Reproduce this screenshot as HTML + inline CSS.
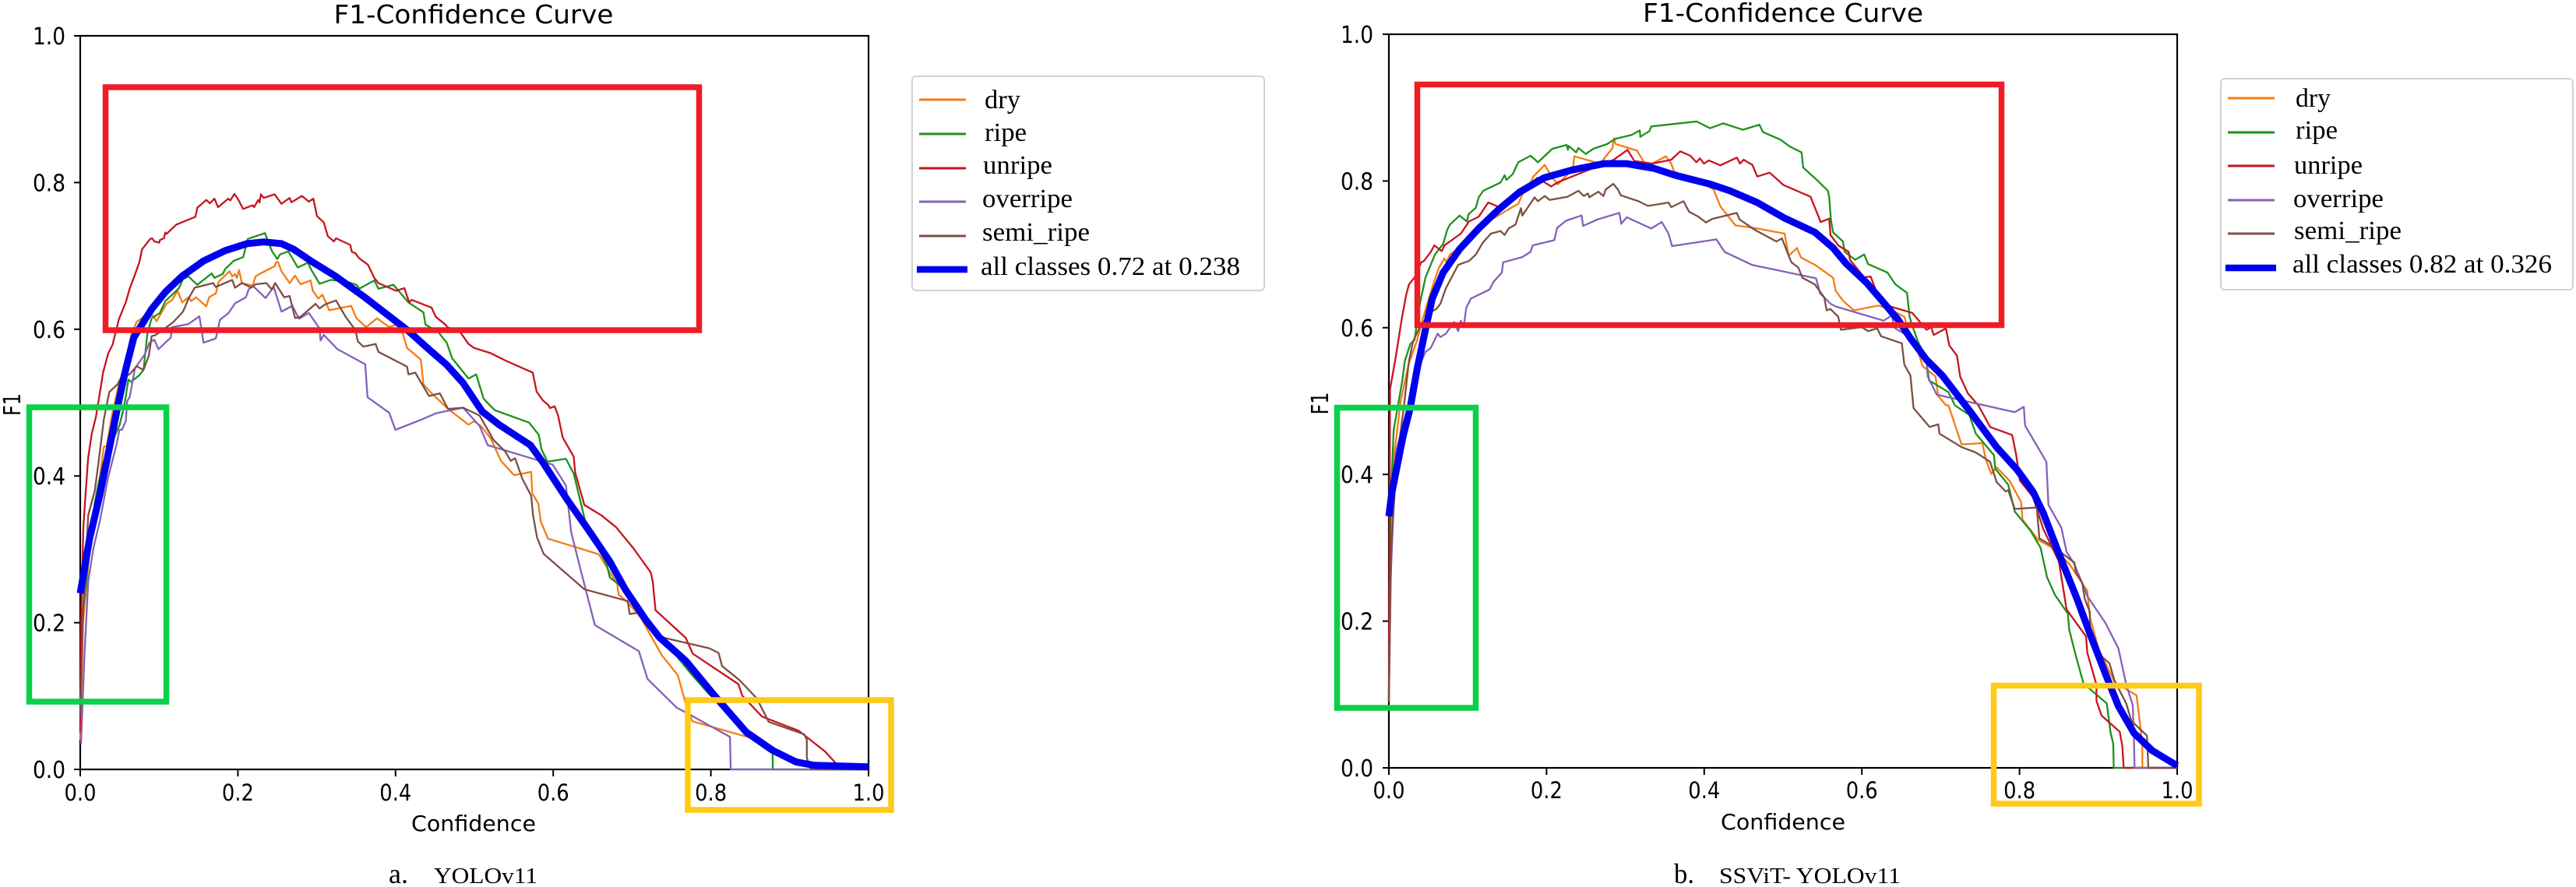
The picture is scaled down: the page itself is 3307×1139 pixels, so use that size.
<!DOCTYPE html>
<html lang="en">
<head>
<meta charset="utf-8">
<title>F1-Confidence Curves</title>
<style>
html,body{margin:0;padding:0;background:#fff;}
svg{display:block;}
.sans{font-family:"DejaVu Sans","Liberation Sans",sans-serif;fill:#000;}
.serif{font-family:"Liberation Serif","Times New Roman",serif;fill:#000;}
</style>
</head>
<body>
<svg id="figure" xmlns="http://www.w3.org/2000/svg" width="3307" height="1139" viewBox="0 0 3307 1139">
<rect x="0" y="0" width="3307" height="1139" fill="#fff"/>

<g id="chart-a">
  <text class="sans" x="608" y="30" font-size="33" text-anchor="middle" textLength="359" lengthAdjust="spacingAndGlyphs">F1-Confidence Curve</text>
  <text class="sans" x="608" y="1067" font-size="28" text-anchor="middle" textLength="160" lengthAdjust="spacingAndGlyphs">Confidence</text>
  <text class="sans" transform="translate(26,519.5) rotate(-90)" font-size="30" text-anchor="middle" textLength="29" lengthAdjust="spacingAndGlyphs">F1</text>
  <g id="axes-a"></g>
  <g id="curves-a"></g>
  <g fill="none">
    <rect x="135.5" y="112" width="762" height="312" stroke="#ee1c25" stroke-width="7.5"/>
    <rect x="37.5" y="523" width="176" height="378" stroke="#0ad14a" stroke-width="7.5"/>
    <rect x="883" y="899" width="261" height="141" stroke="#ffc917" stroke-width="7.5"/>
  </g>
  <g>
    <rect x="1171" y="98" width="452" height="275" rx="5" fill="#fff" stroke="#d2d2d2" stroke-width="2"/>
    <line x1="1180" x2="1240" y1="128" y2="128" stroke="#f57c14" stroke-width="3"/>
    <text class="serif" x="1264" y="139" font-size="34" textLength="46" lengthAdjust="spacingAndGlyphs">dry</text>
    <line x1="1180" x2="1240" y1="172" y2="172" stroke="#1c921c" stroke-width="3"/>
    <text class="serif" x="1264" y="181" font-size="34" textLength="54" lengthAdjust="spacingAndGlyphs">ripe</text>
    <line x1="1180" x2="1240" y1="216" y2="216" stroke="#c8141e" stroke-width="3"/>
    <text class="serif" x="1262" y="223" font-size="34" textLength="89" lengthAdjust="spacingAndGlyphs">unripe</text>
    <line x1="1180" x2="1240" y1="259" y2="259" stroke="#8561b8" stroke-width="3"/>
    <text class="serif" x="1261" y="266" font-size="34" textLength="116" lengthAdjust="spacingAndGlyphs">overripe</text>
    <line x1="1180" x2="1240" y1="303" y2="303" stroke="#7c4f43" stroke-width="3"/>
    <text class="serif" x="1261" y="309" font-size="34" textLength="138" lengthAdjust="spacingAndGlyphs">semi_ripe</text>
    <line x1="1177" x2="1242" y1="346" y2="346" stroke="#0000ee" stroke-width="8.5"/>
    <text class="serif" x="1259" y="353" font-size="34" textLength="333" lengthAdjust="spacingAndGlyphs">all classes 0.72 at 0.238</text>
  </g>
  <text class="serif" x="499" y="1134" font-size="36" textLength="25" lengthAdjust="spacingAndGlyphs">a.</text>
  <text class="serif" x="557" y="1134" font-size="29" textLength="133" lengthAdjust="spacingAndGlyphs">YOLOv11</text>
</g>

<g id="chart-b">
  <text class="sans" x="2289" y="28" font-size="33" text-anchor="middle" textLength="360" lengthAdjust="spacingAndGlyphs">F1-Confidence Curve</text>
  <text class="sans" x="2289" y="1065" font-size="28" text-anchor="middle" textLength="160" lengthAdjust="spacingAndGlyphs">Confidence</text>
  <text class="sans" transform="translate(1705,518) rotate(-90)" font-size="30" text-anchor="middle" textLength="29" lengthAdjust="spacingAndGlyphs">F1</text>
  <g id="axes-b"></g>
  <g id="curves-b"></g>
  <g fill="none">
    <rect x="1819.5" y="108.5" width="750" height="309" stroke="#ee1c25" stroke-width="7.5"/>
    <rect x="1716.5" y="523.5" width="178" height="385.5" stroke="#0ad14a" stroke-width="7.5"/>
    <rect x="2559.5" y="880.5" width="263.5" height="151.5" stroke="#ffc917" stroke-width="7.5"/>
  </g>
  <g>
    <rect x="2851" y="101" width="452" height="271" rx="5" fill="#fff" stroke="#d2d2d2" stroke-width="2"/>
    <line x1="2860" x2="2920" y1="126" y2="126" stroke="#f57c14" stroke-width="3"/>
    <text class="serif" x="2947" y="137" font-size="34" textLength="45" lengthAdjust="spacingAndGlyphs">dry</text>
    <line x1="2860" x2="2920" y1="170" y2="170" stroke="#1c921c" stroke-width="3"/>
    <text class="serif" x="2947" y="178" font-size="34" textLength="54" lengthAdjust="spacingAndGlyphs">ripe</text>
    <line x1="2860" x2="2920" y1="213" y2="213" stroke="#c8141e" stroke-width="3"/>
    <text class="serif" x="2945" y="223" font-size="34" textLength="88" lengthAdjust="spacingAndGlyphs">unripe</text>
    <line x1="2860" x2="2920" y1="257" y2="257" stroke="#8561b8" stroke-width="3"/>
    <text class="serif" x="2944" y="266" font-size="34" textLength="116" lengthAdjust="spacingAndGlyphs">overripe</text>
    <line x1="2860" x2="2920" y1="300" y2="300" stroke="#7c4f43" stroke-width="3"/>
    <text class="serif" x="2945" y="307" font-size="34" textLength="138" lengthAdjust="spacingAndGlyphs">semi_ripe</text>
    <line x1="2857" x2="2922" y1="344" y2="344" stroke="#0000ee" stroke-width="8.5"/>
    <text class="serif" x="2943" y="350" font-size="34" textLength="333" lengthAdjust="spacingAndGlyphs">all classes 0.82 at 0.326</text>
  </g>
  <text class="serif" x="2149" y="1134" font-size="36" textLength="26" lengthAdjust="spacingAndGlyphs">b.</text>
  <text class="serif" x="2207" y="1134" font-size="29" textLength="233" lengthAdjust="spacingAndGlyphs">SSViT- YOLOv11</text>
</g>
</svg>

<script>
const tickValues = [0, 0.2, 0.4, 0.6, 0.8, 1];
const tickLabels = ['0.0', '0.2', '0.4', '0.6', '0.8', '1.0'];

/* Chart a: YOLOv11 */
const dryConfA = [0,.0036,.0118,.02,.03,.0334,.0403,.049,.0577,.0646,.0715,.0802,.0923,.0968,.1096,.1166,.1235,.1294,.1374,.1408,.1467,.1599,.1634,.172,.1755,.1894,.1928,.1963,.1987,.2015,.205,.2188,.2223,.2275,.2466,.2483,.2511,.2552,.2656,.2725,.2795,.2923,.2951,.302,.3072,.3159,.3436,.3505,.3627,.3765,.392,.4008,.4077,.4146,.432,.4354,.4441,.4666,.4926,.4996,.5082,.5209,.5336,.5503,.572,.5734,.581,.5844,.5934,.6579,.6812,.6829,.6946,.7113,.738,.758,.7681,.7764,.8482,.8783,.9251,.9317,1];
const dryF1A = [.04,.2,.298,.36,.44,.4407,.4825,.525,.5568,.5922,.61,.617,.6188,.611,.6347,.64,.6524,.6365,.6436,.6383,.6436,.6312,.6436,.6489,.6648,.679,.672,.6754,.67,.6807,.663,.6595,.672,.6754,.6861,.6914,.6914,.679,.663,.673,.6613,.6666,.6524,.6418,.6471,.6259,.632,.615,.6029,.615,.6029,.6064,.5993,.5745,.5586,.525,.5144,.4914,.47,.4747,.4683,.4508,.4207,.4012,.4055,.3764,.3623,.3375,.3145,.2932,.2525,.2384,.2278,.2065,.1552,.1286,.0897,.0656,.0437,.025,.0083,0,0];

const ripeConfA = [0,.0036,.0118,.0184,.0234,.03,.04,.05,.056,.0611,.0646,.075,.0802,.0854,.0906,.101,.1079,.1166,.1252,.1304,.1374,.1485,.1668,.1703,.1807,.1842,.1946,.2067,.2126,.2344,.2396,.2438,.25,.2535,.2639,.276,.2888,.2933,.3037,.3176,.3384,.3505,.354,.373,.3783,.3973,.4164,.4354,.4379,.4545,.4649,.4718,.4926,.5023,.5117,.5192,.5259,.5694,.5817,.585,.5927,.6161,.6261,.6412,.6679,.6719,.683,.7614,.7748,.7981,.8048,.8449,.8783,.8786,1];
const ripeF1A = [.0938,.216,.298,.363,.3916,.42,.445,.47,.4967,.5314,.5285,.5374,.5445,.5958,.615,.6223,.6383,.647,.656,.6684,.6719,.6606,.6761,.67,.6754,.6825,.6931,.6984,.7232,.731,.716,.7055,.6956,.702,.7062,.6843,.6907,.6807,.662,.6673,.6648,.6606,.6553,.6666,.6553,.6606,.6365,.623,.6064,.5958,.5816,.5604,.5328,.5384,.5055,.4968,.4897,.4727,.456,.4366,.4196,.4235,.403,.3357,.279,.2614,.2525,.1481,.1304,.1021,.0968,.0472,.0242,0,0];

const unripeConfA = [0,.001,.004,.007,.01,.0145,.02,.025,.029,.0355,.041,.049,.0577,.0629,.0698,.075,.0785,.0888,.0913,.094,.1003,.101,.1062,.1079,.1096,.1218,.146,.1485,.1599,.1644,.1703,.1748,.1876,.1904,.1956,.1998,.2067,.2188,.2206,.2258,.2275,.2292,.2327,.2466,.2552,.2656,.268,.2812,.2899,.2958,.3003,.309,.3141,.3218,.3245,.3426,.3446,.3488,.354,.3651,.373,.3783,.4008,.4112,.4174,.4205,.4458,.451,.4632,.4656,.4822,.4926,.4996,.5204,.5405,.574,.579,.587,.5937,.596,.6018,.6061,.6121,.6261,.6278,.6395,.6612,.6796,.7013,.7237,.7263,.7297,.7681,.7771,.8349,.8399,.8649,.9117,.9451,.9601,.9635,1];
const unripeF1A = [.05,.2,.33,.379,.424,.457,.481,.514,.541,.567,.579,.6135,.6365,.656,.6755,.6914,.709,.7232,.7239,.7197,.718,.7215,.724,.732,.73,.7427,.7533,.7657,.7763,.7717,.778,.7664,.778,.7756,.7845,.778,.764,.769,.7664,.7763,.7728,.784,.779,.784,.771,.779,.773,.7817,.774,.778,.7544,.7455,.7268,.7197,.724,.715,.7055,.7038,.6967,.6878,.67,.663,.6524,.656,.6365,.64,.6294,.617,.6064,.6029,.5958,.5799,.5745,.5675,.5568,.541,.5149,.503,.4968,.4925,.495,.4826,.4525,.426,.405,.3605,.3463,.3304,.302,.2685,.256,.2171,.1793,.1577,.1162,.1003,.072,.0525,.0242,.0065,.0012,0];

const overripeConfA = [.001,.0053,.0102,.0168,.025,.0349,.0464,.0497,.053,.0579,.0595,.0628,.0694,.0819,.0878,.094,.0992,.1148,.1166,.1374,.1512,.1564,.172,.1772,.1883,.1963,.2102,.2136,.2188,.2351,.2455,.2552,.2691,.2777,.2899,.3037,.3048,.3089,.3263,.3616,.3644,.3921,.3997,.4337,.451,.4857,.5065,.5169,.5827,.5994,.6161,.6228,.6361,.6529,.7086,.7197,.7564,.7748,.8242,.8252,1];
const overripeF1A = [.0346,.155,.257,.302,.339,.3957,.4447,.463,.463,.4753,.5018,.508,.5467,.5657,.5816,.5858,.5728,.5887,.6029,.6071,.6177,.5816,.5876,.6128,.6223,.6354,.6436,.6542,.6595,.6425,.6577,.624,.632,.6142,.6223,.601,.5845,.5922,.5728,.5522,.5073,.486,.463,.4772,.4853,.4931,.4683,.442,.4207,.4154,.387,.3233,.2667,.1966,.1612,.1233,.0844,.0738,.0444,0,0];

const semiConfA = [0,.0036,.0102,.0184,.0234,.0299,.0369,.0473,.0507,.0629,.0715,.0802,.0871,.0906,.0958,.1096,.1183,.1304,.1374,.1453,.1686,.172,.1928,.1963,.205,.2171,.2223,.2362,.2431,.2473,.2587,.2656,.2725,.2795,.2985,.3037,.3107,.3245,.3367,.3488,.3523,.3592,.3748,.3783,.4146,.4164,.425,.4424,.4562,.4666,.4857,.5065,.5243,.5393,.546,.5516,.561,.572,.5744,.5794,.5877,.6395,.6946,.697,.708,.738,.7981,.8098,.8142,.8365,.8583,.8733,.9184,.9217,.9217,.9251,.9267,1];
const semiF1A = [.0734,.216,.3468,.3794,.4202,.477,.5144,.525,.532,.539,.5497,.5445,.564,.5905,.5922,.6029,.61,.6241,.6418,.6567,.663,.6577,.6673,.6567,.663,.6567,.6613,.663,.6542,.663,.6436,.6453,.6153,.617,.6347,.6283,.634,.6393,.617,.5993,.5834,.5763,.5799,.5692,.549,.5384,.5409,.509,.5126,.4914,.4931,.4825,.449,.433,.4207,.4242,.396,.3729,.3464,.3163,.294,.2455,.2295,.2118,.2136,.18,.1651,.1587,.141,.1216,.0968,.0649,.0479,.0401,.0154,.0065,0,0];

const allConfA = [0,.0118,.025,.0382,.0497,.058,.068,.0802,.0906,.108,.1287,.1564,.1842,.2119,.2327,.2552,.2708,.2951,.3245,.3609,.3887,.4164,.4441,.4649,.4857,.51,.531,.571,.5877,.6178,.6445,.6712,.6913,.718,.7347,.7681,.8048,.8449,.8783,.9084,.9317,1];
const allF1A = [.24,.314,.375,.4447,.5059,.5467,.5887,.6099,.6276,.6507,.6719,.6931,.7073,.7168,.719,.7168,.709,.6914,.6719,.6436,.6206,.5976,.571,.5515,.5268,.4878,.4702,.442,.4172,.3676,.3269,.2844,.2455,.203,.18,.1481,.1003,.0508,.026,.01,.0055,.0035];

/* Chart b: SSViT-YOLOv11 */
const dryConfB = [0,.002,.006,.015,.025,.0359,.0428,.0567,.0636,.0705,.073,.0775,.0844,.1086,.1554,.1641,.1728,.1797,.1832,.1977,.2074,.2144,.2334,.2352,.2681,.2837,.2854,.2878,.3149,.3236,.334,.3513,.3582,.3617,.4033,.412,.4206,.4396,.4674,.502,.5072,.5177,.5228,.5405,.5635,.5668,.5767,.5899,.6211,.636,.654,.6557,.6622,.6705,.6771,.6935,.6968,.7066,.71,.7265,.7528,.7577,.7643,.7709,.7873,.8021,.8038,.8235,.8449,.863,.886,.8893,.9008,.9206,.9485,.9535,.9558,.9558,1];
const dryF1B = [.09,.3,.42,.5,.55,.583,.6113,.6609,.6821,.6945,.6892,.6998,.7052,.7335,.7636,.7689,.7901,.7972,.806,.822,.8043,.7954,.8167,.8337,.8237,.845,.8581,.8503,.8414,.8255,.8237,.8337,.8237,.8131,.7936,.7883,.7653,.7395,.7352,.7282,.6981,.7087,.6956,.6857,.668,.6503,.636,.6237,.6301,.625,.6149,.6078,.583,.5706,.5476,.5334,.5069,.4945,.494,.4409,.4427,.4189,.4006,.4098,.3915,.3622,.3384,.3109,.2981,.278,.2414,.2048,.1609,.117,.0987,.0547,.0286,0,0];

const ripeConfB = [0,.002,.006,.0168,.0203,.0272,.0324,.0393,.0463,.0584,.0688,.074,.0775,.0896,.099,.101,.1104,.1139,.1197,.1416,.1468,.1492,.1572,.1641,.1797,.1891,.2074,.2255,.2272,.2282,.2376,.2404,.2497,.2594,.2768,.2872,.308,.3183,.319,.3305,.333,.3904,.4074,.424,.449,.4701,.4743,.4968,.509,.5235,.5256,.5436,.557,.5586,.5609,.5635,.576,.5783,.5915,.603,.6079,.6326,.6425,.6573,.6606,.6629,.6705,.682,.6853,.7099,.7182,.7363,.7446,.7676,.7692,.7857,.794,.8137,.8268,.835,.8449,.8614,.863,.8712,.8811,.9107,.9156,.9189,.9196,1];
const ripeF1B = [.09,.35,.46,.5264,.5547,.5777,.583,.6326,.668,.6998,.714,.7335,.7406,.7529,.7448,.7547,.7636,.7777,.7866,.7979,.8078,.8014,.8096,.8255,.8344,.8255,.8439,.8492,.8425,.8478,.839,.845,.8368,.8439,.8503,.8574,.8627,.869,.8602,.868,.8744,.8811,.8719,.8786,.8698,.8768,.8669,.8563,.8467,.839,.8184,.8007,.7865,.7777,.7458,.7299,.7175,.7034,.6927,.6998,.6867,.675,.6591,.6474,.6149,.606,.583,.5547,.5281,.5122,.494,.4811,.4555,.4262,.408,.386,.3494,.3237,.2999,.2597,.2359,.2103,.1883,.1536,.1151,.0877,.0474,.0328,0,0];

const unripeConfB = [0,.0008,.0015,.0087,.0168,.022,.0255,.0324,.0411,.0445,.0532,.0577,.0671,.0705,.0913,.1017,.1139,.126,.1416,.1537,.1641,.1884,.2057,.2161,.2854,.3027,.3114,.334,.3582,.3696,.3825,.3901,.3946,.3998,.4057,.4206,.4414,.4455,.4501,.4611,.4674,.483,.5003,.535,.5477,.5586,.5602,.5701,.5833,.5849,.603,.6112,.6168,.6195,.6359,.6639,.6737,.682,.6879,.6912,.7066,.7109,.7208,.7247,.7346,.7479,.7627,.7906,.7956,.8005,.817,.8301,.8498,.8548,.8597,.8844,.886,.8976,.8976,.9041,.9272,.9305,.9321,1];
const unripeF1B = [.09,.3,.516,.56,.6149,.645,.6591,.668,.6892,.691,.7034,.7122,.7044,.7122,.7282,.7448,.7512,.7706,.7636,.776,.782,.8043,.7926,.799,.829,.8425,.8273,.8237,.829,.8404,.8344,.8255,.8308,.8237,.828,.8213,.8319,.8237,.829,.822,.806,.8114,.7947,.7784,.744,.7487,.7264,.7122,.7034,.6927,.6687,.6697,.6538,.6396,.629,.6202,.6078,.5971,.6007,.5901,.599,.576,.5618,.5334,.5104,.494,.4647,.4537,.428,.3915,.3695,.3256,.2817,.2487,.2158,.1792,.1572,.1133,.0913,.0712,.0492,.0291,0,0];

const overripeConfB = [0,.002,.0087,.0237,.0289,.0463,.0532,.0619,.0653,.0723,.0827,.0879,.0913,.0948,.0982,.1041,.1277,.1329,.1433,.145,.1693,.1797,.1825,.2099,.2133,.2248,.2445,.2463,.2646,.2924,.2948,.3017,.3329,.3461,.3547,.3592,.4154,.4258,.4605,.5419,.5471,.5603,.5668,.6277,.6376,.6425,.659,.6737,.682,.6836,.6951,.794,.8054,.8071,.8341,.8367,.8531,.8597,.8696,.886,.909,.9255,.9354,.9436,.9452,.9459,1];
const overripeF1B = [.09,.25,.43,.491,.5228,.567,.5724,.5919,.5873,.5919,.6078,.5954,.6096,.6007,.6273,.6397,.652,.6627,.675,.6892,.6963,.7034,.7122,.7193,.736,.7459,.753,.7388,.7476,.7565,.7416,.7505,.7352,.7441,.7282,.7112,.7204,.7034,.6857,.6673,.6467,.6326,.629,.6096,.6166,.5989,.5883,.5759,.5547,.5334,.5087,.4848,.4921,.4665,.4171,.3585,.3274,.2945,.278,.2341,.1975,.1627,.1133,.0858,.0401,0,0];

const semiConfB = [0,.003,.01,.0185,.0255,.0307,.0376,.0515,.0601,.0653,.0723,.0879,.1017,.1104,.1191,.1294,.1416,.1468,.152,.1606,.1676,.1693,.1849,.1891,.1977,.204,.2265,.2404,.2473,.2525,.2542,.2657,.2722,.275,.2847,.2906,.2941,.3166,.3287,.3547,.3582,.3738,.3807,.3928,.4022,.4102,.4414,.4449,.4639,.4916,.4986,.5072,.5107,.5194,.5246,.5402,.5523,.5553,.5602,.5701,.5734,.5997,.6079,.6195,.6244,.6507,.654,.6616,.6656,.686,.6969,.6985,.7265,.7446,.7627,.7709,.7824,.7857,.794,.8219,.8252,.8449,.8696,.8712,.8795,.8828,.8893,.8893,.9025,.914,.9206,.9354,.942,.9617,.9634,1];
const semiF1B = [.09,.3,.42,.4874,.5547,.5812,.5972,.6202,.6255,.6326,.6538,.6857,.691,.6998,.7158,.7282,.7317,.7264,.7352,.7406,.7629,.7529,.7777,.7724,.7795,.7742,.7784,.7866,.7795,.783,.7777,.7855,.7795,.7883,.7961,.7883,.7806,.7724,.766,.7706,.7643,.7724,.7582,.7512,.7434,.7483,.7565,.7476,.7335,.7175,.7218,.6981,.6892,.6821,.668,.6591,.6414,.6237,.6255,.6149,.5971,.6007,.5954,.5989,.5883,.5788,.5494,.5352,.4903,.4647,.4683,.4555,.4372,.4299,.4171,.3896,.3768,.3786,.353,.3549,.3128,.3,.2798,.267,.2524,.2304,.2121,.1865,.1536,.1426,.1188,.0877,.0639,.0438,0,0];

const allConfB = [0,.0036,.018,.0272,.0359,.0463,.055,.0688,.0896,.1139,.138,.1658,.197,.2317,.2733,.301,.3357,.3634,.4085,.4327,.4674,.502,.5405,.5635,.58,.6063,.6261,.6458,.6622,.682,.7017,.738,.7709,.7972,.8169,.8301,.8498,.8729,.8893,.9091,.9255,.9452,.9683,1];
const allF1B = [.343,.374,.452,.491,.544,.5972,.6397,.675,.7069,.7352,.76,.7848,.8043,.8149,.8237,.8237,.8174,.8078,.7954,.7866,.7706,.7494,.73,.7087,.6874,.6609,.6361,.6113,.5848,.5564,.5352,.4848,.4372,.4061,.3768,.3475,.2926,.2304,.1828,.1279,.084,.0474,.0236,.003];

const NS = 'http://www.w3.org/2000/svg';

function makeAxes(left, bottom) {
  return {
    x: function (conf) { return left + 1012 * conf; },
    y: function (f1) { return bottom - 942 * f1; }
  };
}

function drawAxes(groupId, suffix, scale, xBase, yBase, yEnd) {
  const g = document.getElementById(groupId);

  const frame = document.createElementNS(NS, 'rect');
  
  
  frame.setAttribute('x', scale.x(0));
  frame.setAttribute('y', scale.y(1));
  frame.setAttribute('width', scale.x(1) - scale.x(0));
  frame.setAttribute('height', scale.y(0) - scale.y(1));
  frame.setAttribute('fill', 'none');
  frame.setAttribute('stroke', '#000');
  frame.setAttribute('stroke-width', '2.2');
  g.appendChild(frame);

  tickValues.forEach(function (v, i) {
    const xt = document.createElementNS(NS, 'line');
    
    
    xt.setAttribute('x1', scale.x(v));
    xt.setAttribute('x2', scale.x(v));
    xt.setAttribute('y1', scale.y(0));
    xt.setAttribute('y2', scale.y(0) + 9);
    xt.setAttribute('stroke', '#000');
    xt.setAttribute('stroke-width', '2');
    g.appendChild(xt);

    const yt = document.createElementNS(NS, 'line');
    
    
    yt.setAttribute('x1', scale.x(0) - 8);
    yt.setAttribute('x2', scale.x(0));
    yt.setAttribute('y1', scale.y(v));
    yt.setAttribute('y2', scale.y(v));
    yt.setAttribute('stroke', '#000');
    yt.setAttribute('stroke-width', '2');
    g.appendChild(yt);

    const xl = document.createElementNS(NS, 'text');
    
    
    xl.setAttribute('class', 'sans');
    xl.setAttribute('x', scale.x(v));
    xl.setAttribute('y', xBase);
    xl.setAttribute('font-size', '29');
    xl.setAttribute('text-anchor', 'middle');
    xl.setAttribute('textLength', '41');
    xl.setAttribute('lengthAdjust', 'spacingAndGlyphs');
    xl.textContent = tickLabels[i];
    g.appendChild(xl);

    const yl = document.createElementNS(NS, 'text');
    
    
    yl.setAttribute('class', 'sans');
    yl.setAttribute('x', yEnd);
    yl.setAttribute('y', scale.y(v) + yBase);
    yl.setAttribute('font-size', '30');
    yl.setAttribute('text-anchor', 'end');
    yl.setAttribute('textLength', '42');
    yl.setAttribute('lengthAdjust', 'spacingAndGlyphs');
    yl.textContent = tickLabels[i];
    g.appendChild(yl);
  });
}

function drawCurve(groupId, name, color, width, conf, f1, scale) {
  const g = document.getElementById(groupId);
  const p = document.createElementNS(NS, 'polyline');
  
  
  const pts = conf.map(function (c, i) {
    return scale.x(c).toFixed(1) + ',' + scale.y(f1[i]).toFixed(1);
  });
  p.setAttribute('points', pts.join(' '));
  p.setAttribute('fill', 'none');
  p.setAttribute('stroke', color);
  p.setAttribute('stroke-width', width);
  p.setAttribute('stroke-linejoin', 'round');
  g.appendChild(p);
}

const scaleA = makeAxes(103, 988);
const scaleB = makeAxes(1783, 986);

drawAxes('axes-a', 'a', scaleA, 1028, 11, 84);
drawAxes('axes-b', 'b', scaleB, 1025, 11, 1763);

drawCurve('curves-a', 'curve-dry-a', '#f57c14', 2.3, dryConfA, dryF1A, scaleA);
drawCurve('curves-a', 'curve-ripe-a', '#1c921c', 2.3, ripeConfA, ripeF1A, scaleA);
drawCurve('curves-a', 'curve-unripe-a', '#c8141e', 2.3, unripeConfA, unripeF1A, scaleA);
drawCurve('curves-a', 'curve-overripe-a', '#8561b8', 2.3, overripeConfA, overripeF1A, scaleA);
drawCurve('curves-a', 'curve-semi-ripe-a', '#7c4f43', 2.3, semiConfA, semiF1A, scaleA);
drawCurve('curves-a', 'curve-all-classes-a', '#0000ee', 9, allConfA, allF1A, scaleA);

drawCurve('curves-b', 'curve-dry-b', '#f57c14', 2.3, dryConfB, dryF1B, scaleB);
drawCurve('curves-b', 'curve-ripe-b', '#1c921c', 2.3, ripeConfB, ripeF1B, scaleB);
drawCurve('curves-b', 'curve-unripe-b', '#c8141e', 2.3, unripeConfB, unripeF1B, scaleB);
drawCurve('curves-b', 'curve-overripe-b', '#8561b8', 2.3, overripeConfB, overripeF1B, scaleB);
drawCurve('curves-b', 'curve-semi-ripe-b', '#7c4f43', 2.3, semiConfB, semiF1B, scaleB);
drawCurve('curves-b', 'curve-all-classes-b', '#0000ee', 9, allConfB, allF1B, scaleB);
</script>
</body>
</html>
